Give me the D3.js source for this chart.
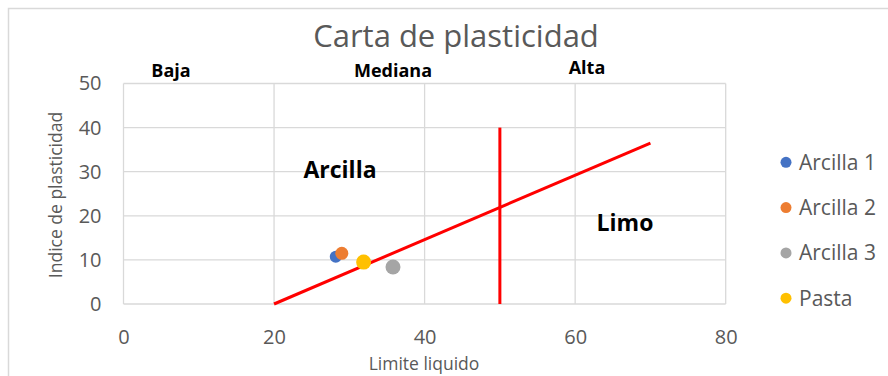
<!DOCTYPE html>
<html>
<head>
<meta charset="utf-8">
<script src="https://cdn.jsdelivr.net/npm/d3@7"></script>
<style>
  html, body { margin: 0; padding: 0; background: #fff; }
  svg { display: block; font-family: "Open Sans", "Liberation Sans", sans-serif; }
</style>
</head>
<body>
<svg id="chart" width="888" height="376"></svg>
<script>
// Plasticity chart data
const seriesNames = ["Arcilla 1", "Arcilla 2", "Arcilla 3", "Pasta"];
const liquidLimit = [28.2, 29.0, 35.8, 31.9];       // Limite liquido
const plasticityIndex = [10.7, 11.5, 8.4, 9.5];    // Indice de plasticidad
const xTicks = [0, 20, 40, 60, 80];
const yTicks = [0, 10, 20, 30, 40, 50];
// Reference lines: A-line and the LL = 50 divider
const aLine = [[20, 0], [70, 36.5]];
const divider = [[50, 0], [50, 40]];
// Zone labels
const plasticityZones = ["Baja", "Mediana", "Alta"];
const soilZones = ["Arcilla", "Limo"];

// Styles
const seriesColors = ["#4472C4", "#ED7D31", "#A5A5A5", "#FFC000"];
const markerRadius = [6, 6.5, 7.5, 7.5];
const textGrey = "#595959";
const gridGrey = "#d9d9d9";

const svg = d3.select("#chart");

// Outer chart frame
svg.append("rect")
  .attr("x", 8.5).attr("y", 8.5)
  .attr("width", 900).attr("height", 400)
  .attr("fill", "none")
  .attr("stroke", gridGrey)
  .attr("stroke-width", 1.5);

const x = d3.scaleLinear().domain([0, 80]).range([123.5, 725.7]);
const y = d3.scaleLinear().domain([0, 50]).range([304, 83.5]);

// Gridlines
const grid = svg.append("g");
grid.selectAll("line.v").data(xTicks).join("line")
  .attr("x1", d => x(d)).attr("x2", d => x(d))
  .attr("y1", y(0)).attr("y2", y(50))
  .attr("stroke", gridGrey).attr("stroke-width", 1.3);
grid.selectAll("line.h").data(yTicks).join("line")
  .attr("x1", x(0)).attr("x2", x(80))
  .attr("y1", d => y(d)).attr("y2", d => y(d))
  .attr("stroke", gridGrey).attr("stroke-width", 1.3);

// Axes (labels only, Excel style)
const xAxis = svg.append("g")
  .attr("transform", `translate(0,${y(0)})`)
  .call(d3.axisBottom(x).tickValues(xTicks).tickSize(0).tickPadding(26));
const yAxis = svg.append("g")
  .attr("transform", `translate(${x(0)},0)`)
  .call(d3.axisLeft(y).tickValues(yTicks).tickSize(0).tickPadding(22));
[xAxis, yAxis].forEach(ax => {
  ax.select(".domain").remove();
  ax.selectAll("text")
    .attr("font-family", "'Open Sans', sans-serif")
    .attr("font-size", 20)
    .attr("fill", textGrey);
});

// Title
svg.append("text")
  .attr("x", 456).attr("y", 47)
  .attr("text-anchor", "middle")
  .attr("font-size", 31)
  .attr("fill", textGrey)
  .text("Carta de plasticidad");

// Axis titles
svg.append("text")
  .attr("x", 424).attr("y", 370)
  .attr("text-anchor", "middle")
  .attr("font-size", 17.5)
  .attr("fill", textGrey)
  .text("Limite liquido");
svg.append("text")
  .attr("transform", "translate(62,195) rotate(-90)")
  .attr("text-anchor", "middle")
  .attr("font-size", 17.5)
  .attr("fill", textGrey)
  .text("Indice de plasticidad");

// Plasticity zone labels above the plot
const zoneX = [171, 393, 587];
const zoneY = [77, 77, 74];
svg.selectAll("text.zone").data(plasticityZones).join("text")
  .attr("class", "zone")
  .attr("x", (d, i) => zoneX[i]).attr("y", (d, i) => zoneY[i])
  .attr("text-anchor", "middle")
  .attr("font-size", 18)
  .attr("font-weight", "bold")
  .attr("fill", "#000")
  .text(d => d);

// Soil zone labels inside the plot
const soilX = [340, 625];
const soilY = [178, 231];
svg.selectAll("text.soil").data(soilZones).join("text")
  .attr("class", "soil")
  .attr("x", (d, i) => soilX[i]).attr("y", (d, i) => soilY[i])
  .attr("text-anchor", "middle")
  .attr("font-size", 23)
  .attr("font-weight", "bold")
  .attr("fill", "#000")
  .text(d => d);

// Reference lines
const line = d3.line().x(d => x(d[0])).y(d => y(d[1]));
[aLine, divider].forEach(pts => {
  svg.append("path")
    .attr("d", line(pts))
    .attr("fill", "none")
    .attr("stroke", "#FF0000")
    .attr("stroke-width", 3);
});

// Sample points
const points = seriesNames.map((name, i) => ({
  name, ll: liquidLimit[i], ip: plasticityIndex[i], color: seriesColors[i], r: markerRadius[i]
}));
svg.append("g").selectAll("circle").data(points).join("circle")
  .attr("cx", d => x(d.ll))
  .attr("cy", d => y(d.ip))
  .attr("r", d => d.r)
  .attr("fill", d => d.color);

// Legend
const legend = svg.append("g").attr("transform", "translate(786,162.3)");
const item = legend.selectAll("g").data(points).join("g")
  .attr("transform", (d, i) => `translate(0,${i * 45.3})`);
item.append("circle").attr("r", 5.5).attr("fill", d => d.color);
item.append("text")
  .attr("x", 13).attr("y", 0)
  .attr("dy", "0.35em")
  .attr("font-size", 21)
  .attr("fill", textGrey)
  .text(d => d.name);
</script>
</body>
</html>
